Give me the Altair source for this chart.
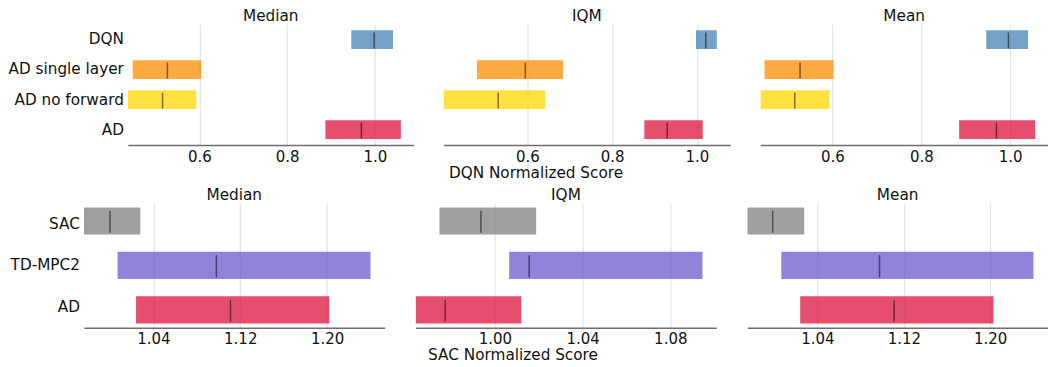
import altair as alt
import pandas as pd

FONT = "DejaVu Sans"
TXT = "#111111"

# ---------------- data ----------------
top_algos = ["DQN", "AD single layer", "AD no forward", "AD"]
bottom_algos = ["SAC", "TD-MPC2", "AD"]

# DQN-normalized (top row)
top_median_lower = [0.946, 0.448, 0.437, 0.887]
top_median_upper = [1.041, 0.604, 0.593, 1.059]
top_median_point = [0.998, 0.527, 0.516, 0.969]

top_iqm_lower = [0.998, 0.481, 0.402, 0.876]
top_iqm_upper = [1.047, 0.684, 0.642, 1.014]
top_iqm_point = [1.021, 0.595, 0.531, 0.930]

top_mean_lower = [0.946, 0.447, 0.438, 0.885]
top_mean_upper = [1.040, 0.602, 0.593, 1.056]
top_mean_point = [0.996, 0.527, 0.515, 0.969]

# SAC-normalized (bottom row)
bot_median_lower = [0.976, 1.007, 1.024]
bot_median_upper = [1.028, 1.240, 1.202]
bot_median_point = [1.000, 1.098, 1.111]

bot_iqm_lower = [0.9747, 1.0065, 0.9638]
bot_iqm_upper = [1.0188, 1.0947, 1.0120]
bot_iqm_point = [0.9936, 1.0156, 0.9773]

bot_mean_lower = [0.975, 1.0065, 1.024]
bot_mean_upper = [1.0277, 1.240, 1.203]
bot_mean_point = [0.9985, 1.0975, 1.111]

top_ticks = [0.6, 0.8, 1.0]
bot_ticks_wide = [1.04, 1.12, 1.20]
bot_ticks_iqm = [1.00, 1.04, 1.08]

color_domain = ["DQN", "AD single layer", "AD no forward", "AD", "SAC", "TD-MPC2"]
color_range = ["steelblue", "darkorange", "gold", "crimson", "gray", "slateblue"]


def make_df(algos, lower, upper, point):
    return pd.DataFrame({"algo": algos, "lower": lower, "upper": upper, "point": point})


def panel(df, title, order, domain, ticks, fmt, width, height,
          pad_inner, pad_outer, tick_len, xtitle=None, titlex=0):
    xaxis_kwargs = dict(values=ticks, format=fmt, grid=True, gridColor="#e6e6e6",
                        gridWidth=1.3, ticks=False, tickSize=0, domainColor="#6e6e6e",
                        domainWidth=1.5, labelFontSize=15, labelFont=FONT,
                        labelColor=TXT, labelPadding=4)
    if xtitle:
        xaxis_kwargs.update(title=xtitle, titleFontSize=15.3, titleFont=FONT,
                            titleFontWeight="normal", titleColor=TXT,
                            titlePadding=1, titleX=titlex, titleAlign="center")
    else:
        xaxis_kwargs.update(title=None)
    xscale = alt.Scale(domain=domain, nice=False, zero=False)
    yscale = alt.Scale(paddingInner=pad_inner, paddingOuter=pad_outer)
    base = alt.Chart(df)
    bars = base.mark_bar(opacity=0.75, clip=True).encode(
        x=alt.X("lower:Q", scale=xscale, axis=alt.Axis(**xaxis_kwargs)),
        x2="upper:Q",
        y=alt.Y("algo:N", sort=order, scale=yscale, axis=None),
        color=alt.Color("algo:N", scale=alt.Scale(domain=color_domain, range=color_range),
                        legend=None),
    )
    med = base.mark_tick(color="black", opacity=0.5, thickness=1.5, size=tick_len,
                         yOffset=0.8, clip=True).encode(
        x=alt.X("point:Q", scale=xscale),
        y=alt.Y("algo:N", sort=order, scale=yscale),
    )
    return alt.layer(bars, med).properties(
        width=width, height=height,
        title=alt.TitleParams(title, fontSize=15.3, font=FONT, fontWeight="normal",
                              color=TXT, offset=0),
    )


def labels(order, width, height, pad_inner, pad_outer, xpos):
    df = pd.DataFrame({"algo": order})
    return alt.Chart(df).mark_text(align="right", baseline="middle", fontSize=15.3,
                                   font=FONT, color=TXT).encode(
        x=alt.value(xpos),
        y=alt.Y("algo:N", sort=order,
                scale=alt.Scale(paddingInner=pad_inner, paddingOuter=pad_outer), axis=None),
        text="algo:N",
    ).properties(width=width, height=height)


top_h = 121
bot_h = 125

tl = labels(top_algos, 89, top_h, 0.37, 0.2, 115)
t1 = panel(make_df(top_algos, top_median_lower, top_median_upper, top_median_point),
           "Median", top_algos, [0.437, 1.088], top_ticks, ".1f", 286, top_h,
           0.37, 0.2, 16)
t2 = panel(make_df(top_algos, top_iqm_lower, top_iqm_upper, top_iqm_point),
           "IQM", top_algos, [0.402, 1.079], top_ticks, ".1f", 287, top_h,
           0.37, 0.2, 16, xtitle="DQN Normalized Score", titlex=92)
t3 = panel(make_df(top_algos, top_mean_lower, top_mean_upper, top_mean_point),
           "Mean", top_algos, [0.4375, 1.085], top_ticks, ".1f", 288, top_h,
           0.37, 0.2, 16)

bl = labels(bottom_algos, 44, bot_h, 0.39, 0.1, 71)
b1 = panel(make_df(bottom_algos, bot_median_lower, bot_median_upper, bot_median_point),
           "Median", bottom_algos, [0.976, 1.253], bot_ticks_wide, ".2f", 301, bot_h,
           0.39, 0.1, 22)
b2 = panel(make_df(bottom_algos, bot_iqm_lower, bot_iqm_upper, bot_iqm_point),
           "IQM", bottom_algos, [0.9638, 1.101], bot_ticks_iqm, ".2f", 301, bot_h,
           0.39, 0.1, 22, xtitle="SAC Normalized Score", titlex=97)
b3 = panel(make_df(bottom_algos, bot_mean_lower, bot_mean_upper, bot_mean_point),
           "Mean", bottom_algos, [0.975, 1.2535], bot_ticks_wide, ".2f", 301, bot_h,
           0.39, 0.1, 22)

top_row = alt.hconcat(tl, t1, t2, t3, spacing=30, bounds="flush")
bot_row = alt.hconcat(bl, b1, b2, b3, spacing=31, bounds="flush")

chart = alt.vconcat(top_row, bot_row, spacing=6).properties(
    padding=0, background="white"
).configure_view(strokeWidth=0)

chart.save("out.html", embed_options={"renderer": "svg", "actions": False})
